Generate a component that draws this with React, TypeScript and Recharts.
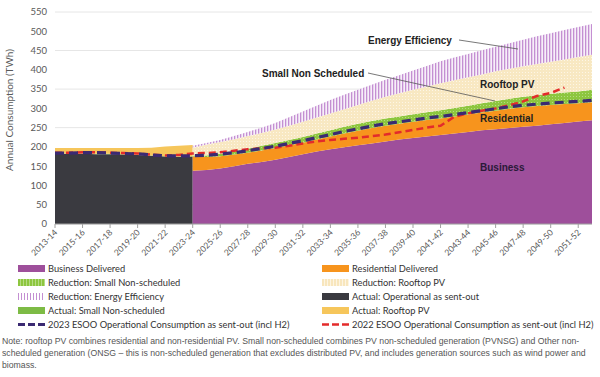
import React from "react";
import { ComposedChart, Area, Line, XAxis, YAxis, CartesianGrid } from "recharts";

const YEARS = [
  "2013-14", "2014-15", "2015-16", "2016-17", "2017-18", "2018-19", "2019-20", "2020-21",
  "2021-22", "2022-23", "2023-24", "2024-25", "2025-26", "2026-27", "2027-28", "2028-29",
  "2029-30", "2030-31", "2031-32", "2032-33", "2033-34", "2034-35", "2035-36", "2036-37",
  "2037-38", "2038-39", "2039-40", "2040-41", "2041-42", "2042-43", "2043-44", "2044-45",
  "2045-46", "2046-47", "2047-48", "2048-49", "2049-50", "2050-51", "2051-52", "2052-53",
];

// actuals, 2013-14 .. 2023-24
const ACTUAL_OPERATIONAL = [182, 182, 182, 181, 181, 180, 179, 177, 175, 174, 175];
const ACTUAL_SMALL_NS = [1, 1, 1, 1, 1, 1, 1, 1, 1, 1, 1];
const ACTUAL_ROOFTOP = [14, 14, 14, 15, 15, 16, 17, 20, 25, 28, 29];

// forecast, 2023-24 .. 2052-53
const BUSINESS = [138, 140, 144, 150, 156, 161, 167, 174, 181, 188, 194, 199, 204, 209, 214, 219, 223, 227, 231, 235, 239, 243, 246, 249, 252, 255, 259, 262, 266, 269];
const RESIDENTIAL = [37, 34, 32, 30, 29, 30, 30, 30, 30, 31, 33, 36, 38, 40, 41, 41, 42, 43, 43, 44, 45, 46, 48, 50, 51, 51, 50, 49, 47, 47];
const RED_SMALL_NS = [3, 4, 6, 8, 10, 12, 13, 14, 15, 16, 16, 17, 18, 18, 19, 19, 20, 20, 21, 22, 23, 24, 25, 26, 27, 28, 29, 30, 31, 32];
const RED_ROOFTOP = [20, 28, 31, 32, 33, 33, 35, 37, 39, 41, 44, 46, 49, 53, 56, 60, 63, 67, 70, 72, 74, 75, 77, 78, 79, 81, 83, 86, 89, 91];
const RED_EE = [5, 4, 5, 8, 11, 14, 17, 22, 27, 31, 35, 37, 39, 41, 44, 47, 50, 53, 57, 59, 60, 63, 64, 66, 69, 72, 74, 76, 78, 80];

const ESOO_2023 = [184, 184, 185, 185, 184, 183, 182, 179, 177, 177,
  177, 178, 181, 185, 190, 196, 202, 209, 216, 224, 232, 240, 247, 254, 260, 265, 270, 275, 279, 284, 289, 294, 299, 304, 308, 311, 314, 316, 318, 321];
const ESOO_2022 = [185, 185, 186, 186, 185, 184, 183, 180, 178, 179,
  183, 184, 186, 190, 194, 196, 198, 203, 209, 214, 218, 221, 224, 228, 232, 238, 244, 250, 255, 278, 287, 294, 300, 308, 318, 332, 340, 354];

const Y_TICKS = [0, 50, 100, 150, 200, 250, 300, 350, 400, 450, 500, 550];
const FC_START = 10;

const data = YEARS.map((year, i) => {
  const h = i <= FC_START ? i : -1;
  const f = i >= FC_START ? i - FC_START : -1;
  return {
    year,
    actOp: h >= 0 ? ACTUAL_OPERATIONAL[h] : null,
    actSns: h >= 0 ? ACTUAL_SMALL_NS[h] : null,
    actPv: h >= 0 ? ACTUAL_ROOFTOP[h] : null,
    business: f >= 0 ? BUSINESS[f] : null,
    residential: f >= 0 ? RESIDENTIAL[f] : null,
    sns: f >= 0 ? RED_SMALL_NS[f] : null,
    pv: f >= 0 ? RED_ROOFTOP[f] : null,
    ee: f >= 0 ? RED_EE[f] : null,
    esoo23: ESOO_2023[i] ?? null,
    esoo22: ESOO_2022[i] ?? null,
  };
});

const FONT = "Lato, 'Open Sans', sans-serif";

const XTick = (props: any) => {
  const { x, y, payload } = props;
  return (
    <g transform={`translate(${x + 3},${y + 3})`}>
      <text textAnchor="end" transform="rotate(-45)" fontSize={8.5} fill="#595959" fontFamily={FONT}>
        {payload.value}
      </text>
    </g>
  );
};

const Swatch = ({ bg }: { bg: string }) => (
  <span style={{ display: "inline-block", width: 27, height: 7, background: bg, marginRight: 3 }} />
);

const DashSwatch = ({ color, w }: { color: string; w: number }) => (
  <svg width={27} height={7} style={{ marginRight: 3 }}>
    <line x1={0} y1={3.5} x2={27} y2={3.5} stroke={color} strokeWidth={w} strokeDasharray="7 3" />
  </svg>
);

const LEGEND_LEFT = [
  { label: "Business Delivered", sw: <Swatch bg="#9e4f9b" /> },
  { label: "Reduction: Small Non-scheduled", sw: <Swatch bg="repeating-linear-gradient(90deg,#8dc63f 0 2px,#b6dc85 2px 3px)" /> },
  { label: "Reduction: Energy Efficiency", sw: <Swatch bg="repeating-linear-gradient(90deg,#c48fd2 0 1px,#ffffff 1px 3px)" /> },
  { label: "Actual: Small Non-scheduled", sw: <Swatch bg="#7dbb45" /> },
  { label: "2023 ESOO Operational Consumption as sent-out (incl H2)", sw: <DashSwatch color="#3b2a72" w={3} /> },
];
const LEGEND_RIGHT = [
  { label: "Residential Delivered", sw: <Swatch bg="#f7941d" /> },
  { label: "Reduction: Rooftop PV", sw: <Swatch bg="repeating-linear-gradient(90deg,#f8e6bd 0 2px,#fdf5e3 2px 3px)" /> },
  { label: "Actual: Operational as sent-out", sw: <Swatch bg="#3a3a40" /> },
  { label: "Actual: Rooftop PV", sw: <Swatch bg="#f6c65b" /> },
  { label: "2022 ESOO Operational Consumption as sent-out (incl H2)", sw: <DashSwatch color="#e32b2b" w={2.5} /> },
];
const ROW_Y = [262, 276, 290, 304, 318];

const NOTE = [
  "Note: rooftop PV combines residential and non-residential PV. Small non-scheduled combines PV non-scheduled generation (PVNSG) and Other non-",
  "scheduled generation (ONSG \u2013 this is non-scheduled generation that excludes distributed PV, and includes generation sources such as wind power and",
  "biomass.",
];

const annText = { fontFamily: "'Liberation Sans', Arial, sans-serif", fontWeight: 700, fontSize: 10, fill: "#222" };

export default function App() {
  return (
    <div style={{ position: "absolute", left: 0, top: 0, width: 600, height: 377, background: "#fff", overflow: "hidden" }}>
      <ComposedChart width={600} height={262} data={data} margin={{ top: 12, right: 8, left: 0, bottom: 0 }}>
        <defs>
          <pattern id="eeP" width="3" height="4" patternUnits="userSpaceOnUse">
            <rect width="3" height="4" fill="#f7eff9" />
            <rect width="1.3" height="4" fill="#c48fd2" />
          </pattern>
          <pattern id="pvP" width="3" height="3" patternUnits="userSpaceOnUse">
            <rect width="3" height="3" fill="#f8e8c2" />
            <rect width="1" height="1" fill="#fdf6e6" />
          </pattern>
          <pattern id="snsP" width="3" height="3" patternUnits="userSpaceOnUse">
            <rect width="3" height="3" fill="#8dc63f" />
            <rect width="1" height="1" fill="#b5db82" />
          </pattern>
        </defs>
        <CartesianGrid vertical={false} stroke="#e6e6e6" />
        <XAxis
          dataKey="year"
          interval={1}
          height={38}
          tick={<XTick />}
          stroke="#a0a0a0"
          tickSize={4}
        />
        <YAxis
          domain={[0, 550]}
          ticks={Y_TICKS}
          width={55}
          axisLine={false}
          tickLine={false}
          tick={{ fontSize: 9.5, fill: "#595959", fontFamily: FONT }}
        />
        <Area dataKey="actOp" stackId="h" type="linear" fill="#3a3a40" fillOpacity={1} stroke="none" isAnimationActive={false} />
        <Area dataKey="actSns" stackId="h" type="linear" fill="#7dbb45" fillOpacity={1} stroke="none" isAnimationActive={false} />
        <Area dataKey="actPv" stackId="h" type="linear" fill="#f6c65b" fillOpacity={1} stroke="none" isAnimationActive={false} />
        <Area dataKey="business" stackId="f" type="linear" fill="#9e4f9b" fillOpacity={1} stroke="none" isAnimationActive={false} />
        <Area dataKey="residential" stackId="f" type="linear" fill="#f7941d" fillOpacity={1} stroke="none" isAnimationActive={false} />
        <Area dataKey="sns" stackId="f" type="linear" fill="url(#snsP)" fillOpacity={1} stroke="none" isAnimationActive={false} />
        <Area dataKey="pv" stackId="f" type="linear" fill="url(#pvP)" fillOpacity={1} stroke="none" isAnimationActive={false} />
        <Area dataKey="ee" stackId="f" type="linear" fill="url(#eeP)" fillOpacity={1} stroke="none" isAnimationActive={false} />
        <Line dataKey="esoo22" type="linear" stroke="#e32b2b" strokeWidth={2.5} strokeDasharray="7 4" dot={false} isAnimationActive={false} />
        <Line dataKey="esoo23" type="linear" stroke="#3b2a72" strokeWidth={3.2} strokeDasharray="9 5" dot={false} isAnimationActive={false} />
      </ComposedChart>

      <svg width={600} height={262} style={{ position: "absolute", left: 0, top: 0, pointerEvents: "none" }}>
        <text x={13} y={110} transform="rotate(-90, 13, 110)" textAnchor="middle" fontSize={10} fill="#595959" fontFamily={FONT}>
          Annual Consumption (TWh)
        </text>
        <text x={368} y={44} {...annText}>Energy Efficiency</text>
        <line x1={459} y1={40} x2={518} y2={49} stroke="#555" strokeWidth={0.8} />
        <text x={262} y={77} {...annText}>Small Non Scheduled</text>
        <line x1={368} y1={73} x2={495} y2={101} stroke="#555" strokeWidth={0.8} />
        <text x={480} y={88} {...annText}>Rooftop PV</text>
        <text x={480} y={122} {...annText}>Residential</text>
        <text x={480} y={171} {...annText} fill="#2a1a38">Business</text>
      </svg>

      {LEGEND_LEFT.map((it, i) => (
        <div key={it.label} style={{ position: "absolute", left: 18, top: ROW_Y[i], display: "flex", alignItems: "center", fontFamily: FONT, fontSize: 9.3, color: "#333", whiteSpace: "nowrap", height: 12 }}>
          {it.sw}
          <span>{it.label}</span>
        </div>
      ))}
      {LEGEND_RIGHT.map((it, i) => (
        <div key={it.label} style={{ position: "absolute", left: 322, top: ROW_Y[i], display: "flex", alignItems: "center", fontFamily: FONT, fontSize: 9.3, color: "#333", whiteSpace: "nowrap", height: 12 }}>
          {it.sw}
          <span>{it.label}</span>
        </div>
      ))}
      {NOTE.map((t, i) => (
        <div key={i} style={{ position: "absolute", left: 2, top: 336 + i * 12, fontFamily: "'Liberation Sans', Arial, sans-serif", fontSize: 8.7, color: "#555", whiteSpace: "nowrap" }}>
          {t}
        </div>
      ))}
    </div>
  );
}
